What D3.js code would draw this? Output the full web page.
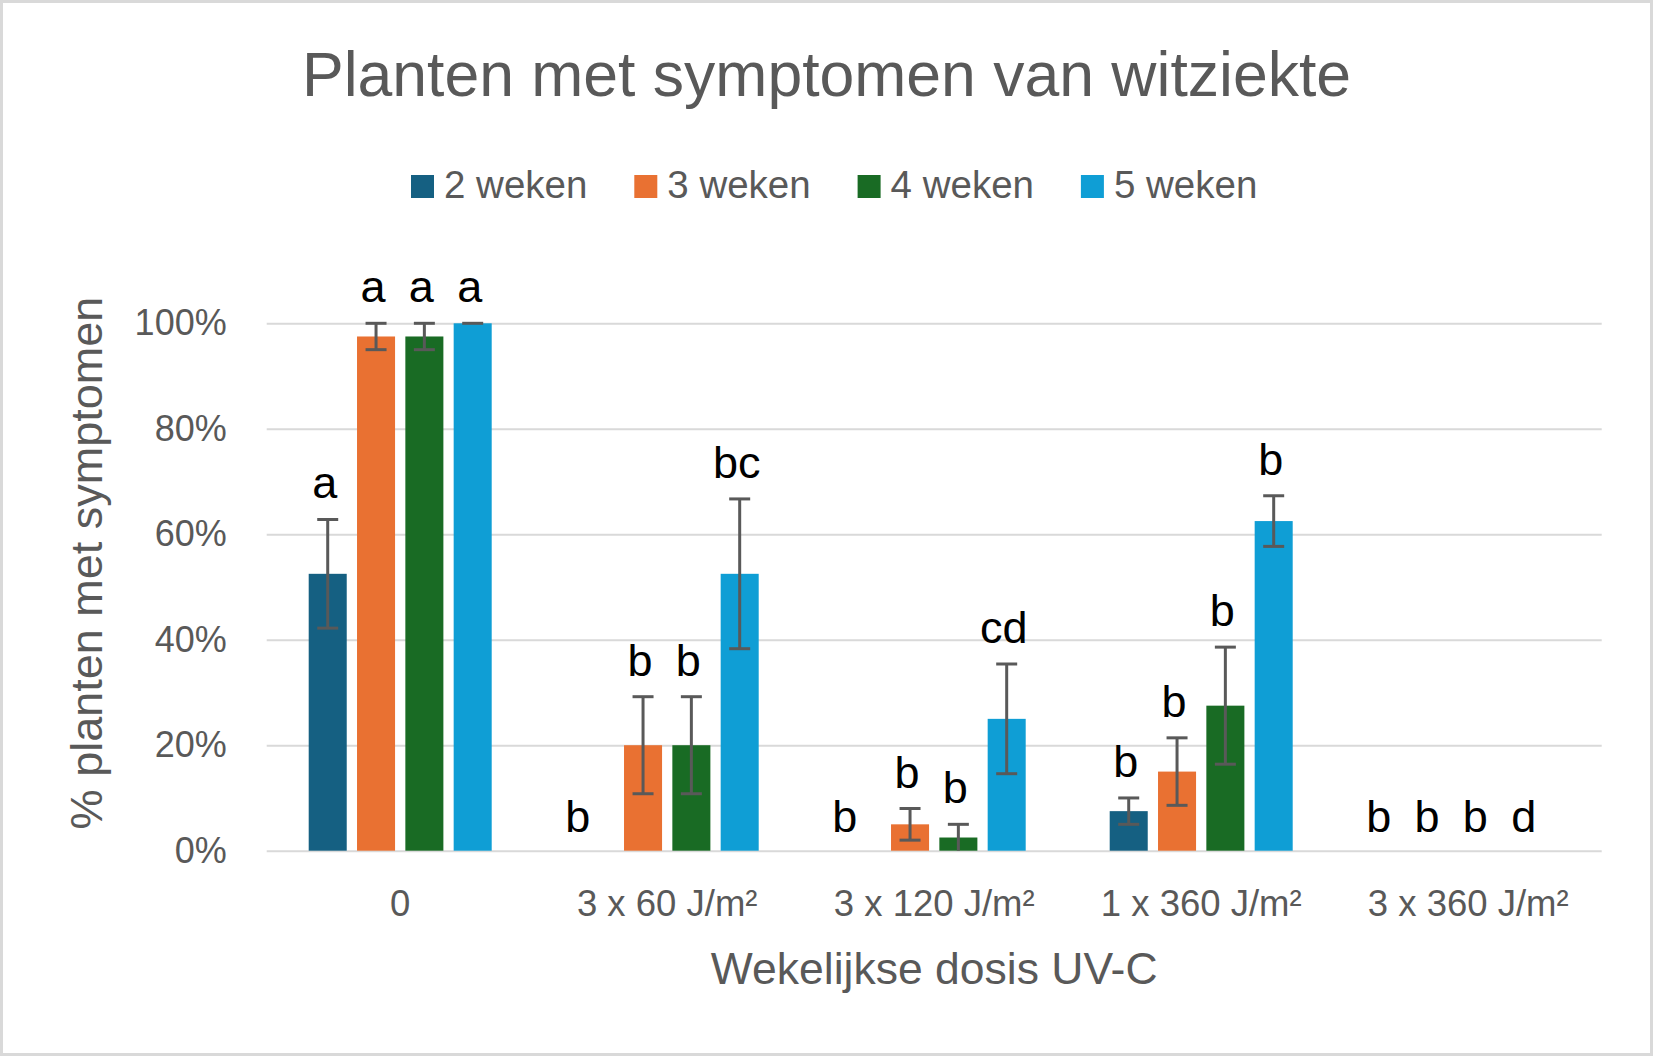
<!DOCTYPE html>
<html>
<head>
<meta charset="utf-8">
<script src="https://cdn.jsdelivr.net/npm/d3@7"></script>
<style>
  body { margin: 0; background: #fff; }
  text { font-family: "Liberation Sans", Arial, sans-serif; }
</style>
</head>
<body>
<div id="app"></div>
<script>
const OUTER = { width: 1653, height: 1056 }
const MARGIN = { top: 323.3, right: 51.3, bottom: 205.3, left: 266.7 }
const INNER = {
  width: OUTER.width - MARGIN.left - MARGIN.right,
  height: OUTER.height - MARGIN.top - MARGIN.bottom,
};

// data
const categories = ["0", "3 x 60 J/m²", "3 x 120 J/m²", "1 x 360 J/m²", "3 x 360 J/m²"];
const seriesNames = ["2 weken", "3 weken", "4 weken", "5 weken"];
const colors = ["#156082", "#E97132", "#196B24", "#0F9ED5"];

const week2 = [52.5, 0, 0, 7.5, 0];
const week3 = [97.5, 20, 5, 15, 0];
const week4 = [97.5, 20, 2.5, 27.5, 0];
const week5 = [100, 52.5, 25, 62.5, 0];

const err2 = [10.3, 0, 0, 2.5, 0];
const err3 = [2.5, 9.2, 3, 6.4, 0];
const err4 = [2.5, 9.2, 2.5, 11.1, 0];
const err5 = [0, 14.2, 10.4, 4.8, 0];

const letters2 = ["a", "b", "b", "b", "b"];
const letters3 = ["a", "b", "b", "b", "b"];
const letters4 = ["a", "b", "b", "b", "b"];
const letters5 = ["a", "bc", "cd", "b", "d"];

const yTicks = [0, 20, 40, 60, 80, 100];

const values = [week2, week3, week4, week5];
const errors = [err2, err3, err4, err5];
const letters = [letters2, letters3, letters4, letters5];

const rows = [];
categories.forEach((cat, ci) => {
  seriesNames.forEach((s, si) => {
    rows.push({
      cat, series: s, si,
      value: values[si][ci],
      err: errors[si][ci],
      letter: letters[si][ci],
    });
  });
});

const GREY = "#595959";

const x0 = d3.scaleBand()
  .domain(categories)
  .range([0, INNER.width])
  .paddingInner(0.3146)
  .paddingOuter(0.1573);

const x1 = d3.scaleBand()
  .domain(seriesNames)
  .range([0, x0.bandwidth()])
  .paddingInner(0.213);

const yScale = d3.scaleLinear()
  .domain([0, 100])
  .range([INNER.height, 0]);

const color = d3.scaleOrdinal().domain(seriesNames).range(colors);

const svg = d3.select('#app')
  .append('svg')
  .attr('width', OUTER.width)
  .attr('height', OUTER.height);

svg.append('rect')
  .attr('x', 1.5).attr('y', 1.5)
  .attr('width', OUTER.width - 3).attr('height', OUTER.height - 3)
  .attr('fill', '#fff')
  .attr('stroke', '#d9d9d9')
  .attr('stroke-width', 3);

// title
svg.append('text')
  .attr('x', OUTER.width / 2)
  .attr('y', 96)
  .attr('text-anchor', 'middle')
  .attr('fill', GREY)
  .attr('font-size', 62.5)
  .text('Planten met symptomen van witziekte');

// legend
const legend = svg.append('g')
  .attr('transform', 'translate(411, 175)');

const item = legend.selectAll('g')
  .data(seriesNames)
  .join('g')
  .attr('transform', (d, i) => `translate(${i * 223.3}, 0)`);

item.append('rect')
  .attr('width', 23).attr('height', 23)
  .attr('fill', d => color(d));

item.append('text')
  .attr('x', 33)
  .attr('y', 22.7)
  .attr('fill', GREY)
  .attr('font-size', 38.5)
  .text(d => d);

const chart = svg.append('g')
  .attr('transform', `translate(${MARGIN.left}, ${MARGIN.top})`);

// gridlines + y labels
const yAxis = chart.append('g')
  .attr('class', 'y-axis')
  .call(d3.axisLeft(yScale)
    .tickValues(yTicks)
    .tickFormat(d => d + '%')
    .tickSize(-INNER.width)
    .tickPadding(40));
yAxis.select('.domain').remove();
yAxis.selectAll('line').attr('stroke', '#d9d9d9').attr('stroke-width', 2);
yAxis.selectAll('text')
  .attr('fill', GREY)
  .attr('font-size', 36)
  .style('font-family', '"Liberation Sans", Arial, sans-serif');

// x labels
const xAxis = chart.append('g')
  .attr('class', 'x-axis')
  .attr('transform', `translate(0, ${INNER.height})`)
  .call(d3.axisBottom(x0).tickSize(0).tickPadding(39.7));
xAxis.select('.domain').remove();
xAxis.selectAll('text')
  .attr('fill', GREY)
  .attr('font-size', 36.5)
  .style('font-family', '"Liberation Sans", Arial, sans-serif');

// bars
const barX = d => x0(d.cat) + x1(d.series);

chart.append('g')
  .selectAll('rect')
  .data(rows.filter(d => d.value > 0))
  .join('rect')
  .attr('x', barX)
  .attr('width', x1.bandwidth())
  .attr('y', d => yScale(d.value))
  .attr('height', d => yScale(0) - yScale(d.value))
  .attr('fill', d => color(d.series));

// error bars
const CAP = 10.5;
const eb = chart.append('g')
  .attr('stroke', GREY)
  .attr('stroke-width', 3)
  .selectAll('g')
  .data(rows.filter(d => d.value > 0))
  .join('g')
  .attr('transform', d => `translate(${barX(d) + x1.bandwidth() / 2}, 0)`);

eb.append('line')
  .attr('y1', d => yScale(d.value + d.err))
  .attr('y2', d => yScale(Math.max(0, d.value - d.err)));
eb.append('line')
  .attr('x1', -CAP).attr('x2', CAP)
  .attr('y1', d => yScale(d.value + d.err))
  .attr('y2', d => yScale(d.value + d.err));
eb.filter(d => d.err > 0 && d.value - d.err > 0).append('line')
  .attr('x1', -CAP).attr('x2', CAP)
  .attr('y1', d => yScale(d.value - d.err))
  .attr('y2', d => yScale(d.value - d.err));

// significance letters
chart.append('g')
  .selectAll('text')
  .data(rows)
  .join('text')
  .attr('x', d => barX(d) + x1.bandwidth() / 2 + (d.value > 0 ? -3 : -17))
  .attr('y', d => yScale(d.value + d.err) - (d.value > 0 ? 21 : 19))
  .attr('text-anchor', 'middle')
  .attr('fill', '#000')
  .attr('font-size', 45)
  .text(d => d.letter);

// axis titles
svg.append('text')
  .attr('transform', 'translate(101.7, 563) rotate(-90)')
  .attr('text-anchor', 'middle')
  .attr('fill', GREY)
  .attr('font-size', 45)
  .text('% planten met symptomen');

svg.append('text')
  .attr('x', MARGIN.left + INNER.width / 2)
  .attr('y', 983.7)
  .attr('text-anchor', 'middle')
  .attr('fill', GREY)
  .attr('font-size', 44.5)
  .text('Wekelijkse dosis UV-C');
</script>
</body>
</html>
